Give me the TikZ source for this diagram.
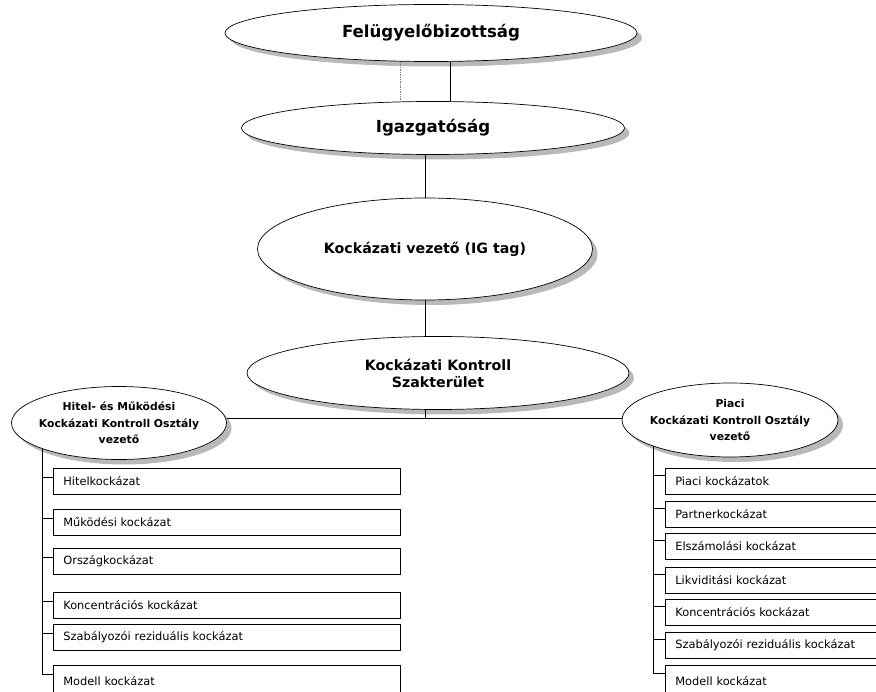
\documentclass[tikz,border=0pt]{standalone}
\usepackage{fontspec}
\setmainfont{DejaVu Sans}
\usepackage{tikz}
\usetikzlibrary{shapes.geometric, shadows, positioning, calc}

\tikzset{
  oval/.style={draw, ellipse, fill=white, inner sep=-6pt, align=center,
    drop shadow={shadow xshift=5pt, shadow yshift=-5pt, fill=gray!55, opacity=1}},
  bigtitle/.style={font=\fontsize{16.6}{20}\bfseries},
  midtitle/.style={font=\fontsize{14.2}{17}\bfseries},
  smalltitle/.style={font=\fontsize{10.8}{16.5}\bfseries},
  riskbox/.style={draw, rectangle, anchor=north west, minimum height=26pt, inner xsep=10pt,
    align=left, font=\fontsize{11.4}{13}\selectfont},
  leftbox/.style={riskbox, text width=327pt},
  rightbox/.style={riskbox, text width=220pt},
}

\begin{document}
\begin{tikzpicture}[x=1pt, y=-1pt, line width=0.7pt]
        \useasboundingbox (0,0) rectangle (876,692);

        % ovals
        \node (fb) at (431,33) [oval, bigtitle, minimum width=412pt, minimum height=57pt] {Felügyelőbizottság};
        \node (ig) at (433,128) [oval, bigtitle, minimum width=383pt, minimum height=53pt] {Igazgatóság};
        \node (kv) at (425,249) [oval, midtitle, minimum width=335pt, minimum height=102pt] {Kockázati vezető (IG tag)};
        \node (kks) at (438,373) [oval, midtitle, minimum width=382pt, minimum height=73pt] {Kockázati Kontroll\\Szakterület};
        \node (hm) at (119,423) [oval, smalltitle, minimum width=215pt, minimum height=73pt] {Hitel- és Működési\\Kockázati Kontroll Osztály\\vezető};
        \node (pk) at (730,420) [oval, smalltitle, minimum width=216pt, minimum height=74pt] {Piaci\\Kockázati Kontroll Osztály\\vezető};

        \coordinate (fbline) at (450,0);
        \coordinate (fbdots) at (400,0);
        \coordinate (hub) at (425,418);

        \draw (fb.south -| fbline) -- (ig.north -| fbline);
        \draw[gray, densely dotted] (fb.south -| fbdots) -- (ig.north -| fbdots);
        \draw (ig.south -| kv.north) -- (kv.north);
        \draw (kv.south) -- (kks.north -| kv.south);
        \draw (kks.south -| hub) -- (hub);
        \draw (hm.east |- hub) -- (pk.west |- hub);

        % left column
        \node (lb1) at (53,468) [leftbox] {Hitelkockázat};
        \node (lb2) at (53,509) [leftbox] {Működési kockázat};
        \node (lb3) at (53,548) [leftbox] {Országkockázat};
        \node (lb4) at (53,592) [leftbox] {Koncentrációs kockázat};
        \node (lb5) at (53,624) [leftbox] {Szabályozói reziduális kockázat};
        \node (lb6) at (53,665) [leftbox, minimum height=32pt] {Modell kockázat};

        \draw ([yshift=4pt]lb1.west) -| (hm.south west);
        \draw ([yshift=4pt]lb2.west) -| (hm.south west);
        \draw ([yshift=4pt]lb3.west) -| (hm.south west);
        \draw ([yshift=4pt]lb4.west) -| (hm.south west);
        \draw ([yshift=4pt]lb5.west) -| (hm.south west);
        \draw ([yshift=7pt]lb6.west) -| (hm.south west);

        % right column
        \node (rb1) at (665,468) [rightbox] {Piaci kockázatok};
        \node (rb2) at (665,501) [rightbox] {Partnerkockázat};
        \node (rb3) at (665,533) [rightbox] {Elszámolási kockázat};
        \node (rb4) at (665,567) [rightbox] {Likviditási kockázat};
        \node (rb5) at (665,599) [rightbox] {Koncentrációs kockázat};
        \node (rb6) at (665,632) [rightbox] {Szabályozói reziduális kockázat};
        \node (rb7) at (665,665) [rightbox, minimum height=32pt] {Modell kockázat};

        \draw ([yshift=6pt]rb1.west) -| (pk.south west);
        \draw ([yshift=6pt]rb2.west) -| (pk.south west);
        \draw ([yshift=6pt]rb3.west) -| (pk.south west);
        \draw ([yshift=6pt]rb4.west) -| (pk.south west);
        \draw ([yshift=6pt]rb5.west) -| (pk.south west);
        \draw ([yshift=6pt]rb6.west) -| (pk.south west);
        \draw ([yshift=8pt]rb7.west) -| (pk.south west);
    \end{tikzpicture}
\end{document}
